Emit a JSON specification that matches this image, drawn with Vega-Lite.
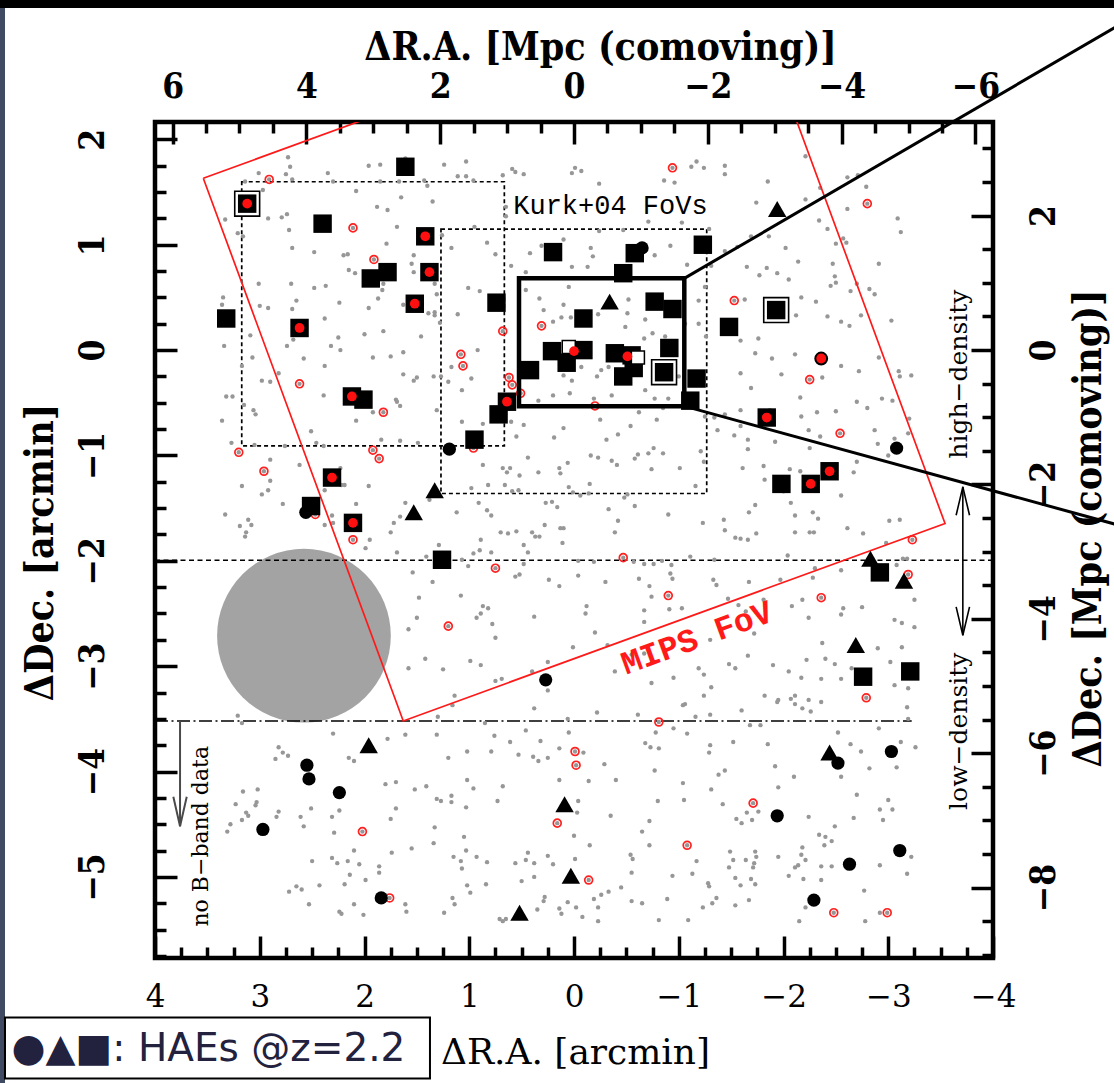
{
"$schema":"https://vega.github.io/schema/vega-lite/v6.json",
"width":838,"height":836,
"autosize":{"type":"none"},
"padding":{"left":155,"top":122,"right":121,"bottom":125},
"background":"white",
"config":{
"view":{"stroke":"black","strokeWidth":4.5},
"axis":{"grid":false,"domain":false,"tickColor":"black","tickWidth":3.5,"tickCap":"butt","labelColor":"black","titleColor":"black","labelOverlap":false,"labelFlush":false,"labelBound":false}
},
"datasets":{
"gray":[
{"a":2.73,"d":1.83},{"a":2.71,"d":1.74},{"a":3.01,"d":1.68},{"a":2.75,"d":1.67},{"a":2.69,"d":1.62},{"a":2.35,"d":1.68},{"a":1.96,"d":1.75},{"a":1.85,"d":1.76},{"a":1.61,"d":1.82},{"a":3.14,"d":1.6},{"a":2.97,"d":1.52},{"a":2.3,"d":1.6},{"a":2.08,"d":1.51},{"a":1.85,"d":1.6},{"a":1.67,"d":1.6},{"a":1.43,"d":1.61},{"a":1.4,"d":1.56},{"a":1.65,"d":1.45},{"a":1.35,"d":1.41},{"a":1.88,"d":1.36},{"a":1.78,"d":1.33},{"a":3.33,"d":1.24},{"a":3.21,"d":1.11},{"a":3.16,"d":1.08},{"a":2.92,"d":1.25},{"a":2.79,"d":1.26},{"a":2.74,"d":1.29},{"a":2.72,"d":1.14},{"a":1.69,"d":1.17},{"a":2.69,"d":0.97},{"a":2.48,"d":0.93},{"a":2.2,"d":0.9},{"a":2.16,"d":0.91},{"a":1.79,"d":1.01},{"a":1.53,"d":0.9},{"a":1.55,"d":0.82},{"a":2.15,"d":0.76},{"a":2.09,"d":0.73},{"a":1.53,"d":0.74},{"a":1.82,"d":0.63},{"a":1.83,"d":0.57},{"a":3.01,"d":0.63},{"a":2.7,"d":0.63},{"a":2.48,"d":0.59},{"a":2.37,"d":0.61},{"a":1.33,"d":0.63},{"a":1.31,"d":0.53},{"a":3.35,"d":0.5},{"a":3.36,"d":0.43},{"a":3.0,"d":0.42},{"a":2.92,"d":0.4},{"a":2.69,"d":0.39},{"a":2.65,"d":0.47},{"a":2.24,"d":0.45},{"a":1.87,"d":0.49},{"a":1.96,"d":0.4},{"a":1.63,"d":0.43},{"a":1.39,"d":0.35},{"a":1.33,"d":0.36},{"a":1.33,"d":0.33},{"a":2.38,"d":0.3},{"a":3.09,"d":0.14},{"a":2.74,"d":0.04},{"a":2.68,"d":0.1},{"a":2.58,"d":-0.08},{"a":2.32,"d":0.04},{"a":2.25,"d":0.12},{"a":2.23,"d":0.0},{"a":2.0,"d":0.15},{"a":1.82,"d":0.18},{"a":1.46,"d":0.13},{"a":1.92,"d":-0.07},{"a":1.75,"d":-0.06},{"a":1.63,"d":-0.02},{"a":3.34,"d":0.04},{"a":3.07,"d":-0.07},{"a":3.17,"d":-0.15},{"a":2.38,"d":-0.15},{"a":2.98,"d":-0.29},{"a":2.9,"d":-0.3},{"a":2.82,"d":-0.22},{"a":1.63,"d":-0.23},{"a":1.5,"d":-0.26},{"a":1.53,"d":-0.29},{"a":1.34,"d":-0.25},{"a":2.39,"d":-0.43},{"a":3.32,"d":-0.44},{"a":3.26,"d":-0.44},{"a":3.15,"d":-0.52},{"a":1.7,"d":-0.47},{"a":1.69,"d":-0.49},{"a":1.66,"d":-0.53},
{"a":1.24,"d":1.76},{"a":1.03,"d":1.79},{"a":1.11,"d":1.65},{"a":1.03,"d":1.65},{"a":0.96,"d":1.61},{"a":0.68,"d":1.66},{"a":0.59,"d":1.72},{"a":0.56,"d":1.69},{"a":0.48,"d":1.67},{"a":0.02,"d":1.68},{"a":-0.01,"d":1.73},{"a":-0.07,"d":1.7},{"a":-0.24,"d":1.58},{"a":-0.86,"d":1.61},{"a":-0.96,"d":1.59},{"a":-1.12,"d":1.74},{"a":-1.17,"d":1.79},{"a":-1.24,"d":1.73},{"a":0.65,"d":1.36},{"a":0.65,"d":1.27},{"a":0.95,"d":1.17},{"a":0.83,"d":1.02},{"a":0.75,"d":0.91},{"a":0.6,"d":0.8},{"a":0.46,"d":0.74},{"a":0.42,"d":0.92},{"a":0.31,"d":0.99},{"a":0.1,"d":1.05},{"a":0.02,"d":0.79},{"a":-0.13,"d":0.79},{"a":-0.16,"d":0.97},{"a":-0.18,"d":0.89},{"a":-0.24,"d":1.13},{"a":-0.47,"d":1.14},{"a":-0.71,"d":1.22},{"a":-0.77,"d":0.9},{"a":-0.92,"d":0.99},{"a":-1.03,"d":1.21},{"a":-1.29,"d":1.15},{"a":-1.31,"d":0.8},{"a":-1.08,"d":0.81},{"a":-1.25,"d":0.6},{"a":-1.19,"d":0.47},{"a":-1.26,"d":0.13},{"a":1.26,"d":1.09},{"a":1.17,"d":0.97},{"a":1.01,"d":0.59},{"a":0.9,"d":0.56},{"a":1.11,"d":0.34},{"a":1.28,"d":0.26},{"a":0.92,"d":0.0},{"a":1.17,"d":-0.16},{"a":1.2,"d":-0.3},{"a":1.07,"d":-0.38},{"a":0.98,"d":-0.27},{"a":1.27,"d":-0.25},{"a":0.46,"d":0.57},{"a":0.33,"d":0.49},{"a":0.29,"d":0.38},{"a":0.1,"d":0.43},{"a":0.2,"d":0.27},{"a":0.05,"d":0.6},{"a":0.12,"d":0.31},{"a":0.03,"d":0.31},{"a":-0.14,"d":0.35},{"a":-0.23,"d":0.34},{"a":-0.51,"d":0.35},{"a":-0.52,"d":0.48},{"a":-0.49,"d":0.22},{"a":-0.68,"d":0.29},{"a":-0.67,"d":0.11},{"a":-0.75,"d":0.16},{"a":-0.87,"d":0.13},{"a":-1.06,"d":0.25},{"a":-1.19,"d":0.25},{"a":-0.26,"d":-0.19},{"a":-0.33,"d":-0.16},{"a":-0.07,"d":-0.16},{"a":-0.22,"d":-0.25},{"a":0.1,"d":-0.24},{"a":0.02,"d":-0.29},{"a":-1.0,"d":-0.25},{"a":-0.68,"d":-0.38},{"a":-0.9,"d":-0.46},{"a":-0.77,"d":-0.46},{"a":0.34,"d":-0.48},{"a":0.2,"d":-0.43},{"a":0.04,"d":-0.41},{"a":-0.19,"d":-0.46},{"a":-0.36,"d":-0.43},
{"a":-1.44,"d":1.75},{"a":-1.44,"d":1.67},{"a":-2.21,"d":1.84},{"a":-1.85,"d":1.6},{"a":-1.74,"d":1.4},{"a":-2.21,"d":1.43},{"a":-2.35,"d":1.54},{"a":-2.61,"d":1.64},{"a":-2.71,"d":1.66},{"a":-2.79,"d":1.55},{"a":-2.61,"d":1.34},{"a":-2.34,"d":1.23},{"a":-2.42,"d":1.15},{"a":-2.5,"d":1.01},{"a":-2.57,"d":1.06},{"a":-2.6,"d":1.02},{"a":-2.02,"d":0.97},{"a":-1.69,"d":1.08},{"a":-1.86,"d":1.08},{"a":-1.44,"d":0.94},{"a":-1.56,"d":0.98},{"a":-3.09,"d":1.25},{"a":-3.12,"d":1.12},{"a":-2.14,"d":0.84},{"a":-2.47,"d":0.82},{"a":-2.91,"d":0.82},{"a":-1.65,"d":0.79},{"a":-1.84,"d":0.78},{"a":-1.77,"d":0.71},{"a":-1.94,"d":0.73},{"a":-2.05,"d":0.67},{"a":-2.49,"d":0.7},{"a":-2.5,"d":0.64},{"a":-2.45,"d":0.61},{"a":-2.64,"d":0.56},{"a":-2.7,"d":0.63},{"a":-2.82,"d":0.58},{"a":-2.87,"d":0.53},{"a":-2.17,"d":0.5},{"a":-2.31,"d":0.46},{"a":-1.63,"d":0.48},{"a":-2.12,"d":0.33},{"a":-2.42,"d":0.32},{"a":-2.55,"d":0.27},{"a":-2.63,"d":0.23},{"a":-2.74,"d":0.33},{"a":-3.03,"d":0.28},{"a":-1.59,"d":0.09},{"a":-1.76,"d":0.11},{"a":-1.73,"d":-0.03},{"a":-1.89,"d":-0.08},{"a":-2.11,"d":-0.04},{"a":-2.55,"d":-0.15},{"a":-2.72,"d":-0.2},{"a":-2.91,"d":-0.07},{"a":-3.1,"d":-0.2},{"a":-3.11,"d":-0.25},{"a":-3.22,"d":-0.24},{"a":-1.59,"d":-0.22},{"a":-1.98,"d":-0.23},{"a":-2.37,"d":-0.26},{"a":-1.69,"d":-0.36},{"a":-2.16,"d":-0.45},{"a":-2.7,"d":-0.49},{"a":-2.8,"d":-0.55},{"a":-2.94,"d":-0.46},{"a":-3.04,"d":-0.48},
{"a":3.36,"d":-0.67},{"a":3.06,"d":-0.57},{"a":3.04,"d":-0.61},{"a":2.51,"d":-0.77},{"a":2.08,"d":-0.67},{"a":1.92,"d":-0.59},{"a":1.31,"d":-0.57},{"a":3.27,"d":-0.88},{"a":3.05,"d":-0.9},{"a":2.76,"d":-0.91},{"a":2.46,"d":-0.88},{"a":2.39,"d":-0.91},{"a":1.84,"d":-0.85},{"a":1.66,"d":-0.86},{"a":1.49,"d":-0.88},{"a":2.9,"d":-1.04},{"a":2.62,"d":-1.09},{"a":2.23,"d":-1.12},{"a":2.22,"d":-1.28},{"a":2.19,"d":-1.28},{"a":1.96,"d":-1.29},{"a":2.38,"d":-1.33},{"a":2.9,"d":-1.24},{"a":2.92,"d":-1.33},{"a":2.98,"d":-1.37},{"a":3.17,"d":-1.29},{"a":2.78,"d":-1.46},{"a":2.08,"d":-1.46},{"a":3.33,"d":-1.56},{"a":3.11,"d":-1.61},{"a":3.08,"d":-1.66},{"a":3.19,"d":-1.67},{"a":3.13,"d":-1.73},{"a":3.14,"d":-1.77},{"a":2.31,"d":-1.57},{"a":2.3,"d":-1.64},{"a":2.38,"d":-1.66},{"a":1.95,"d":-1.8},{"a":1.99,"d":-1.88},{"a":1.69,"d":-1.92},{"a":1.75,"d":-1.73},{"a":1.72,"d":-1.64},{"a":1.61,"d":-1.45},{"a":1.66,"d":-1.58},{"a":1.38,"d":-1.42},{"a":1.41,"d":-1.96},{"a":1.29,"d":-1.85},{"a":1.54,"d":-2.11},{"a":1.35,"d":-2.2},{"a":1.48,"d":-2.35},{"a":1.5,"d":-2.54},{"a":1.58,"d":-2.65},{"a":1.42,"d":-2.93},{"a":1.58,"d":-3.02},
{"a":1.07,"d":-0.68},{"a":0.87,"d":-0.7},{"a":0.6,"d":-0.68},{"a":0.48,"d":-0.71},{"a":0.1,"d":-0.74},{"a":0.19,"d":-0.83},{"a":0.55,"d":-0.82},{"a":-0.25,"d":-0.66},{"a":-0.31,"d":-0.85},{"a":-0.42,"d":-0.8},{"a":-0.54,"d":-0.72},{"a":-0.62,"d":-0.59},{"a":-0.79,"d":-0.66},{"a":-0.85,"d":-0.55},{"a":-1.25,"d":-0.63},{"a":-1.34,"d":-0.64},{"a":-1.37,"d":-0.76},{"a":-1.21,"d":-0.96},{"a":-1.24,"d":-1.06},{"a":0.44,"d":-1.02},{"a":0.87,"d":-1.09},{"a":0.68,"d":-1.12},{"a":0.64,"d":-1.16},{"a":0.61,"d":-1.12},{"a":0.52,"d":-1.19},{"a":0.34,"d":-1.16},{"a":0.14,"d":-1.12},{"a":0.13,"d":-1.17},{"a":0.06,"d":-1.07},{"a":-0.16,"d":-1.0},{"a":-0.23,"d":-1.02},{"a":-0.36,"d":-1.05},{"a":-0.41,"d":-1.09},{"a":-0.58,"d":-1.03},{"a":-0.61,"d":-0.99},{"a":-0.71,"d":-0.98},{"a":-0.76,"d":-0.93},{"a":-0.85,"d":-0.98},{"a":-0.74,"d":-1.13},{"a":-1.01,"d":-1.12},{"a":-1.16,"d":-1.29},{"a":0.98,"d":-1.31},{"a":0.82,"d":-1.28},{"a":0.66,"d":-1.28},{"a":0.59,"d":-1.34},{"a":0.53,"d":-1.33},{"a":0.05,"d":-1.3},{"a":-0.15,"d":-1.27},{"a":0.01,"d":-1.35},{"a":-0.06,"d":-1.38},{"a":-0.14,"d":-1.36},{"a":-0.51,"d":-1.37},{"a":-0.48,"d":-1.4},{"a":-0.58,"d":-1.48},{"a":0.91,"d":-1.45},{"a":0.83,"d":-1.52},{"a":0.79,"d":-1.57},{"a":1.12,"d":-1.54},{"a":0.27,"d":-1.45},{"a":0.21,"d":-1.44},{"a":0.16,"d":-1.49},{"a":-0.33,"d":-1.51},{"a":-0.42,"d":-1.62},{"a":-0.39,"d":-1.73},{"a":-0.9,"d":-1.56},{"a":-1.23,"d":-1.64},{"a":0.28,"d":-1.66},{"a":0.13,"d":-1.69},{"a":0.1,"d":-1.69},{"a":0.11,"d":-1.83},{"a":0.4,"d":-1.73},{"a":0.37,"d":-1.77},{"a":0.33,"d":-1.77},{"a":0.7,"d":-1.73},{"a":0.63,"d":-1.74},{"a":0.55,"d":-1.72},{"a":0.48,"d":-1.85},{"a":0.44,"d":-1.92},{"a":0.89,"d":-1.8},{"a":0.9,"d":-1.9},{"a":0.96,"d":-1.93},{"a":0.79,"d":-1.92},{"a":1.07,"d":-1.99},{"a":1.01,"d":-2.05},{"a":0.48,"d":-2.03},{"a":-0.04,"d":-2.0},{"a":-0.19,"d":-2.01},{"a":-0.57,"d":-2.01},{"a":-0.67,"d":-2.03},{"a":-0.76,"d":-2.03},{"a":-0.84,"d":-2.0},{"a":-0.93,"d":-2.04},{"a":-1.11,"d":-1.96},{"a":-1.34,"d":-1.99},{"a":0.52,"d":-2.13},{"a":0.56,"d":-2.15},{"a":0.24,"d":-2.18},{"a":0.14,"d":-2.24},{"a":-0.04,"d":-2.14},{"a":-0.3,"d":-2.2},{"a":-0.62,"d":-2.17},{"a":-0.72,"d":-2.24},{"a":-0.74,"d":-2.34},{"a":-0.92,"d":-2.12},{"a":-0.94,"d":-2.17},{"a":-1.33,"d":-2.18},{"a":-1.36,"d":-2.23},{"a":1.08,"d":-2.33},{"a":0.87,"d":-2.43},{"a":0.82,"d":-2.45},{"a":0.89,"d":-2.5},{"a":0.93,"d":-2.54},{"a":0.78,"d":-2.6},{"a":0.75,"d":-2.73},{"a":0.38,"d":-2.53},{"a":-0.12,"d":-2.43},{"a":-0.11,"d":-2.5},{"a":-0.67,"d":-2.47},{"a":-0.67,"d":-2.58},{"a":-0.91,"d":-2.46},{"a":-1.03,"d":-2.45},{"a":-0.2,"d":-2.68},{"a":0.01,"d":-2.82},{"a":-0.67,"d":-2.88},{"a":-0.32,"d":-2.8},{"a":-0.55,"d":-2.89},{"a":-0.75,"d":-2.96},{"a":1.25,"d":-3.03},{"a":0.99,"d":-2.95},{"a":0.89,"d":-2.99},{"a":0.75,"d":-3.14},{"a":0.69,"d":-3.12},{"a":0.4,"d":-3.05},{"a":0.25,"d":-2.96},{"a":0.25,"d":-3.23},{"a":1.14,"d":-3.28},{"a":-0.39,"d":-3.05},{"a":-0.74,"d":-3.16},{"a":-0.95,"d":-3.11},{"a":-1.19,"d":-3.02},{"a":-1.24,"d":-3.08},{"a":-1.31,"d":-3.2},{"a":-1.24,"d":-3.28},{"a":-1.06,"d":-3.36},{"a":-1.3,"d":-2.75},
{"a":-1.44,"d":-0.61},{"a":-1.59,"d":-0.57},{"a":-1.87,"d":-0.57},{"a":-2.17,"d":-0.63},{"a":-2.32,"d":-0.59},{"a":-2.5,"d":-0.58},{"a":-3.2,"d":-0.65},{"a":-1.59,"d":-0.72},{"a":-1.53,"d":-0.81},{"a":-1.66,"d":-0.85},{"a":-1.66,"d":-0.94},{"a":-1.92,"d":-0.87},{"a":-2.24,"d":-0.76},{"a":-2.25,"d":-0.93},{"a":-2.35,"d":-0.82},{"a":-2.87,"d":-0.76},{"a":-2.9,"d":-0.89},{"a":-3.0,"d":-1.0},{"a":-3.06,"d":-0.84},{"a":-3.19,"d":-0.79},{"a":-2.7,"d":-1.06},{"a":-2.67,"d":-1.16},{"a":-1.61,"d":-1.12},{"a":-1.81,"d":-1.1},{"a":-2.06,"d":-1.13},{"a":-2.16,"d":-1.15},{"a":-1.82,"d":-1.23},{"a":-2.0,"d":-1.34},{"a":-2.07,"d":-1.45},{"a":-2.55,"d":-1.38},{"a":-1.73,"d":-1.47},{"a":-1.67,"d":-1.54},{"a":-2.11,"d":-1.57},{"a":-2.28,"d":-1.54},{"a":-2.33,"d":-1.6},{"a":-1.43,"d":-1.61},{"a":-1.44,"d":-1.71},{"a":-1.54,"d":-1.78},{"a":-1.59,"d":-1.79},{"a":-1.66,"d":-1.8},{"a":-1.74,"d":-1.74},{"a":-2.11,"d":-1.73},{"a":-2.25,"d":-1.73},{"a":-2.29,"d":-1.73},{"a":-2.61,"d":-1.69},{"a":-2.76,"d":-1.74},{"a":-3.01,"d":-1.62},{"a":-3.11,"d":-1.61},{"a":-2.98,"d":-1.83},{"a":-3.14,"d":-1.98},{"a":-3.18,"d":-1.98},{"a":-2.04,"d":-1.95},{"a":-2.3,"d":-2.07},{"a":-2.55,"d":-2.09},{"a":-3.08,"d":-2.04},{"a":-1.67,"d":-2.2},{"a":-1.97,"d":-2.18},{"a":-2.28,"d":-2.16},{"a":-1.47,"d":-2.36},{"a":-1.57,"d":-2.42},{"a":-1.64,"d":-2.48},{"a":-1.81,"d":-2.37},{"a":-2.08,"d":-2.43},{"a":-2.18,"d":-2.37},{"a":-2.24,"d":-2.54},{"a":-2.55,"d":-2.51},{"a":-2.57,"d":-2.45},{"a":-2.75,"d":-2.44},{"a":-3.06,"d":-2.56},{"a":-3.13,"d":-2.59},{"a":-3.25,"d":-2.63},{"a":-3.25,"d":-2.37},{"a":-1.72,"d":-2.69},{"a":-2.37,"d":-2.78},{"a":-2.9,"d":-2.83},{"a":-3.13,"d":-2.82},{"a":-1.66,"d":-2.9},{"a":-1.48,"d":-2.98},{"a":-1.54,"d":-3.02},{"a":-1.9,"d":-2.99},{"a":-2.05,"d":-3.05},{"a":-2.22,"d":-2.94},{"a":-2.4,"d":-2.93},{"a":-2.49,"d":-2.98},{"a":-2.65,"d":-3.02},{"a":-3.02,"d":-2.96},{"a":-2.17,"d":-3.11},{"a":-2.36,"d":-3.12},{"a":-2.55,"d":-3.12},{"a":-3.06,"d":-3.18},{"a":-3.19,"d":-3.21},{"a":-2.11,"d":-3.28},{"a":-1.95,"d":-3.32},{"a":-2.07,"d":-3.31},{"a":-1.82,"d":-3.28},{"a":-2.24,"d":-3.32},{"a":-2.36,"d":-3.34},
{"a":3.21,"d":-3.47},{"a":3.17,"d":-3.54},{"a":2.3,"d":-3.64},{"a":2.82,"d":-3.77},{"a":2.78,"d":-3.82},{"a":2.73,"d":-3.85},{"a":2.85,"d":-3.88},{"a":2.15,"d":-3.87},{"a":2.1,"d":-3.9},{"a":3.16,"d":-4.19},{"a":3.02,"d":-4.17},{"a":3.23,"d":-4.31},{"a":3.03,"d":-4.29},{"a":3.04,"d":-4.32},{"a":2.82,"d":-4.38},{"a":2.84,"d":-4.43},{"a":3.13,"d":-4.39},{"a":3.11,"d":-4.42},{"a":3.17,"d":-4.46},{"a":3.28,"d":-4.5},{"a":3.31,"d":-4.57},{"a":2.61,"d":-4.43},{"a":2.58,"d":-4.52},{"a":2.51,"d":-4.35},{"a":2.31,"d":-4.43},{"a":2.24,"d":-4.37},{"a":2.29,"d":-4.58},{"a":1.78,"d":-3.69},{"a":1.61,"d":-3.65},{"a":1.31,"d":-3.65},{"a":1.8,"d":-4.12},{"a":1.7,"d":-4.1},{"a":1.52,"d":-4.17},{"a":1.41,"d":-4.14},{"a":1.31,"d":-4.26},{"a":1.7,"d":-4.35},{"a":1.75,"d":-4.45},{"a":1.33,"d":-4.53},{"a":1.34,"d":-4.68},{"a":1.55,"d":-4.73},{"a":1.74,"d":-4.77},{"a":2.5,"d":-4.85},{"a":2.31,"d":-4.82},{"a":2.26,"d":-4.87},{"a":2.16,"d":-4.85},{"a":2.1,"d":-4.75},{"a":2.05,"d":-4.88},{"a":2.14,"d":-4.98},{"a":1.99,"d":-5.03},{"a":1.86,"d":-4.9},{"a":1.86,"d":-4.96},{"a":2.43,"d":-5.08},{"a":2.19,"d":-5.07},{"a":2.72,"d":-5.14},{"a":2.65,"d":-5.09},{"a":2.6,"d":-5.12},{"a":2.53,"d":-5.26},{"a":2.24,"d":-5.33},{"a":2.22,"d":-5.35},{"a":2.1,"d":-5.26},{"a":2.01,"d":-5.36},{"a":1.61,"d":-5.26},{"a":1.6,"d":-5.33},
{"a":1.3,"d":-3.48},{"a":1.16,"d":-3.37},{"a":0.38,"d":-3.4},{"a":-0.22,"d":-3.44},{"a":-0.61,"d":-3.46},{"a":-1.04,"d":-3.37},{"a":-1.16,"d":-3.48},{"a":-1.3,"d":-3.46},{"a":0.06,"d":-3.5},{"a":0.85,"d":-3.54},{"a":0.46,"d":-3.61},{"a":0.05,"d":-3.63},{"a":0.76,"d":-3.66},{"a":0.32,"d":-3.71},{"a":0.61,"d":-3.72},{"a":-0.78,"d":-3.63},{"a":-0.95,"d":-3.59},{"a":-1.08,"d":-3.64},{"a":-0.68,"d":-3.73},{"a":-0.73,"d":-3.77},{"a":-0.81,"d":-3.78},{"a":-1.3,"d":-3.75},{"a":-1.29,"d":-3.82},{"a":1.2,"d":-3.87},{"a":1.02,"d":-3.81},{"a":0.79,"d":-3.81},{"a":0.53,"d":-3.84},{"a":0.39,"d":-3.86},{"a":0.34,"d":-3.9},{"a":0.25,"d":-3.87},{"a":0.14,"d":-3.78},{"a":-0.09,"d":-3.82},{"a":-0.29,"d":-3.93},{"a":-0.77,"d":-3.99},{"a":-1.38,"d":-4.03},{"a":1.02,"d":-4.08},{"a":0.96,"d":-4.16},{"a":0.68,"d":-4.14},{"a":0.14,"d":-4.08},{"a":-0.14,"d":-4.09},{"a":-0.4,"d":-4.08},{"a":-1.04,"d":-4.11},{"a":-1.31,"d":-4.17},{"a":1.27,"d":-4.28},{"a":1.17,"d":-4.23},{"a":1.17,"d":-4.29},{"a":1.03,"d":-4.34},{"a":0.73,"d":-4.28},{"a":-0.04,"d":-4.28},{"a":-0.03,"d":-4.39},{"a":-0.35,"d":-4.42},{"a":-0.8,"d":-4.28},{"a":-1.05,"d":-4.27},{"a":-0.72,"d":-4.47},{"a":-0.65,"d":-4.57},{"a":0.0,"d":-4.61},{"a":1.05,"d":-4.62},{"a":1.03,"d":-4.75},{"a":-0.15,"d":-4.7},{"a":-0.72,"d":-4.7},{"a":1.15,"d":-4.81},{"a":1.08,"d":-4.85},{"a":1.07,"d":-4.92},{"a":0.93,"d":-4.81},{"a":0.83,"d":-4.86},{"a":0.56,"d":-4.87},{"a":0.46,"d":-4.84},{"a":0.44,"d":-4.77},{"a":0.38,"d":-4.87},{"a":0.25,"d":-4.8},{"a":0.2,"d":-4.88},{"a":-0.01,"d":-4.83},{"a":-0.54,"d":-4.79},{"a":-0.56,"d":-4.83},{"a":-1.17,"d":-4.85},{"a":-0.55,"d":-4.96},{"a":-0.94,"d":-4.99},{"a":-1.13,"d":-4.97},{"a":1.02,"d":-5.08},{"a":0.99,"d":-5.15},{"a":0.84,"d":-5.07},{"a":0.5,"d":-5.04},{"a":0.38,"d":-5.0},{"a":-0.33,"d":-5.14},{"a":-0.45,"d":-5.1},{"a":-0.26,"d":-5.17},{"a":-0.19,"d":-5.21},{"a":-1.28,"d":-5.06},{"a":-1.29,"d":-5.09},{"a":1.16,"d":-5.2},{"a":1.14,"d":-5.26},{"a":1.24,"d":-5.34},{"a":0.28,"d":-5.19},{"a":0.29,"d":-5.23},{"a":0.35,"d":-5.31},{"a":0.14,"d":-5.3},{"a":0.12,"d":-5.35},{"a":0.06,"d":-5.24},{"a":-0.02,"d":-5.29},{"a":-0.08,"d":-5.38},{"a":-0.23,"d":-5.29},{"a":-0.23,"d":-5.42},{"a":-0.55,"d":-5.23},{"a":-0.65,"d":-5.25},{"a":-0.89,"d":-5.21},{"a":-1.23,"d":-5.29},{"a":-1.32,"d":-5.25},{"a":-0.81,"d":-5.41},{"a":-1.09,"d":-5.41},{"a":0.71,"d":-5.4},{"a":0.68,"d":-5.42},{"a":0.65,"d":-5.4},
{"a":-1.6,"d":-3.42},{"a":-1.94,"d":-3.34},{"a":-2.11,"d":-3.36},{"a":-2.18,"d":-3.4},{"a":-2.26,"d":-3.43},{"a":-3.18,"d":-3.39},{"a":-3.19,"d":-3.5},{"a":-1.68,"d":-3.56},{"a":-1.78,"d":-3.56},{"a":-2.52,"d":-3.63},{"a":-2.91,"d":-3.59},{"a":-1.52,"d":-3.72},{"a":-1.85,"d":-3.74},{"a":-2.64,"d":-3.74},{"a":-2.74,"d":-3.81},{"a":-3.12,"d":-3.72},{"a":-3.26,"d":-3.77},{"a":-1.44,"d":-3.99},{"a":-1.92,"d":-3.95},{"a":-2.1,"d":-4.05},{"a":-2.55,"d":-4.05},{"a":-2.82,"d":-3.97},{"a":-3.08,"d":-3.96},{"a":-1.95,"d":-4.15},{"a":-2.7,"d":-4.22},{"a":-3.0,"d":-4.27},{"a":-2.92,"d":-4.36},{"a":-3.04,"d":-4.36},{"a":-1.42,"d":-4.31},{"a":-1.65,"d":-4.39},{"a":-1.76,"d":-4.38},{"a":-1.55,"d":-4.45},{"a":-1.6,"d":-4.49},{"a":-1.7,"d":-4.46},{"a":-2.24,"d":-4.43},{"a":-2.49,"d":-4.52},{"a":-2.67,"d":-4.44},{"a":-2.95,"d":-4.46},{"a":-2.34,"d":-4.6},{"a":-2.4,"d":-4.62},{"a":-2.46,"d":-4.66},{"a":-2.39,"d":-4.7},{"a":-2.18,"d":-4.72},{"a":-2.17,"d":-4.79},{"a":-1.49,"d":-4.76},{"a":-1.52,"d":-4.84},{"a":-1.64,"d":-4.84},{"a":-1.73,"d":-4.76},{"a":-1.74,"d":-4.81},{"a":-1.72,"d":-4.87},{"a":-1.71,"d":-4.91},{"a":-1.48,"d":-4.91},{"a":-1.95,"d":-4.81},{"a":-2.21,"d":-4.84},{"a":-2.14,"d":-4.89},{"a":-2.11,"d":-4.91},{"a":-2.05,"d":-4.99},{"a":-2.36,"d":-4.9},{"a":-2.46,"d":-4.9},{"a":-2.36,"d":-5.03},{"a":-2.19,"d":-5.02},{"a":-1.54,"d":-5.01},{"a":-1.69,"d":-5.02},{"a":-1.73,"d":-5.07},{"a":-1.59,"d":-5.08},{"a":-1.36,"d":-5.2},{"a":-1.54,"d":-5.27},{"a":-1.67,"d":-5.22},{"a":-2.77,"d":-5.13},{"a":-2.92,"d":-4.89},{"a":-3.18,"d":-4.97},{"a":-3.22,"d":-4.81},{"a":-2.21,"d":-5.29},{"a":-2.15,"d":-5.42},{"a":-2.78,"d":-5.42},{"a":-2.92,"d":-5.34}
],
"rings":[
{"a":2.91,"d":1.62},{"a":2.11,"d":1.16},{"a":1.91,"d":0.86},{"a":2.62,"d":-0.32},{"a":-0.94,"d":1.73},{"a":0.31,"d":0.23},{"a":0.68,"d":0.18},{"a":1.08,"d":-0.04},{"a":1.06,"d":-0.15},{"a":0.62,"d":-0.26},{"a":0.59,"d":-0.33},{"a":0.51,"d":-0.41},{"a":-0.2,"d":-0.53},{"a":-2.8,"d":1.39},{"a":-1.53,"d":0.47},{"a":-2.25,"d":-0.28},{"a":1.82,"d":-0.59},{"a":3.2,"d":-0.97},{"a":2.96,"d":-1.15},{"a":1.92,"d":-0.95},{"a":1.86,"d":-1.03},{"a":2.47,"d":-1.56},{"a":2.11,"d":-1.8},{"a":0.75,"d":-2.07},{"a":-0.47,"d":-1.97},{"a":-0.9,"d":-2.33},{"a":1.2,"d":-2.62},{"a":0.96,"d":-0.93},{"a":-2.54,"d":-0.79},{"a":-3.23,"d":-1.8},{"a":-3.19,"d":-2.13},{"a":-2.36,"d":-2.35},{"a":-2.79,"d":-3.3},{"a":2.02,"d":-4.57},{"a":1.76,"d":-5.2},{"a":-0.81,"d":-3.53},{"a":-0.01,"d":-3.81},{"a":-0.02,"d":-3.94},{"a":0.16,"d":-4.49},{"a":-1.08,"d":-4.7},{"a":-0.14,"d":-5.03},{"a":-1.71,"d":-4.3},{"a":-2.48,"d":-5.34},{"a":-2.99,"d":-5.34}
],
"squares":[
{"a":1.61,"d":1.74},{"a":2.4,"d":1.2},{"a":3.12,"d":1.39},{"a":1.42,"d":1.08},{"a":1.38,"d":0.74},{"a":1.78,"d":0.74},{"a":1.94,"d":0.68},{"a":1.52,"d":0.44},{"a":3.32,"d":0.3},{"a":2.62,"d":0.21},{"a":2.12,"d":-0.44},{"a":2.01,"d":-0.47},
{"a":0.2,"d":0.93},{"a":-0.58,"d":0.92},{"a":-1.23,"d":1.0},{"a":-0.47,"d":0.73},{"a":0.74,"d":0.45},{"a":-0.77,"d":0.46},{"a":-0.94,"d":0.39},{"a":-0.09,"d":0.3},{"a":0.21,"d":-0.01},{"a":0.07,"d":-0.12},{"a":-0.09,"d":0.0},{"a":-0.39,"d":-0.03},{"a":-0.55,"d":-0.05},{"a":-0.57,"d":-0.17},{"a":-0.47,"d":-0.25},{"a":-0.91,"d":0.02},{"a":-0.86,"d":-0.21},{"a":0.42,"d":-0.19},{"a":-1.17,"d":-0.27},{"a":-1.11,"d":-0.48},{"a":0.64,"d":-0.49},
{"a":-1.93,"d":0.38},{"a":-1.48,"d":0.22},
{"a":2.31,"d":-1.21},{"a":2.51,"d":-1.48},{"a":2.11,"d":-1.64},
{"a":0.72,"d":-0.61},{"a":0.95,"d":-0.85},{"a":1.26,"d":-1.99},
{"a":-1.84,"d":-0.64},{"a":-1.98,"d":-1.27},{"a":-2.26,"d":-1.27},{"a":-2.44,"d":-1.15},{"a":-2.92,"d":-2.11},{"a":-2.76,"d":-3.1},{"a":-3.21,"d":-3.05}
],
"bigopen":[{"a":3.12,"d":1.39},{"a":-1.93,"d":0.38},{"a":-0.86,"d":-0.21}],
"smallopen":[{"a":0.05,"d":0.03},{"a":-0.61,"d":-0.07}],
"circles":[
{"a":-0.65,"d":0.97},{"a":2.56,"d":-1.54},{"a":1.19,"d":-0.94},{"a":0.27,"d":-3.13},{"a":-3.08,"d":-0.93},{"a":2.55,"d":-3.94},{"a":2.53,"d":-4.07},{"a":2.24,"d":-4.2},{"a":2.97,"d":-4.55},{"a":1.84,"d":-5.2},{"a":-2.52,"d":-3.92},{"a":-3.03,"d":-3.81},{"a":-1.94,"d":-4.42},{"a":-3.11,"d":-4.75},{"a":-2.63,"d":-4.88},{"a":-2.29,"d":-5.22}
],
"triangles":[
{"a":-0.34,"d":0.46},{"a":-1.94,"d":1.34},{"a":1.33,"d":-1.33},{"a":1.53,"d":-1.54},{"a":-2.83,"d":-1.98},{"a":-3.15,"d":-2.19},{"a":-2.69,"d":-2.8},{"a":1.96,"d":-3.75},{"a":0.09,"d":-4.31},{"a":0.03,"d":-4.99},{"a":0.52,"d":-5.34},{"a":-2.44,"d":-3.82}
],
"reddots":[
{"a":3.12,"d":1.39},{"a":1.42,"d":1.08},{"a":1.38,"d":0.74},{"a":1.52,"d":0.44},{"a":2.62,"d":0.21},{"a":2.12,"d":-0.44},{"a":0.0,"d":-0.01},{"a":-0.51,"d":-0.06},{"a":0.64,"d":-0.49},{"a":2.31,"d":-1.21},{"a":2.11,"d":-1.64},{"a":-1.84,"d":-0.64},{"a":-2.26,"d":-1.27},{"a":-2.44,"d":-1.15}
],
"redcirc":[{"a":-2.36,"d":-0.08}],
"bigcircle":[{"a":2.578,"d":-2.711}],
"mips":[{"a":3.539,"d":1.631,"k":0},{"a":-1.632,"d":3.505,"k":1},{"a":-3.542,"d":-1.646,"k":2},{"a":1.63,"d":-3.52,"k":3},{"a":3.539,"d":1.631,"k":4}],
"kurk":[{"a":3.172,"a2":0.665,"d":1.598,"d2":-0.909},{"a":1.27,"a2":-1.267,"d":1.149,"d2":-1.361}],
"zoombox":[{"a":0.525,"a2":-1.053,"d":0.681,"d2":-0.532}],
"zoomlines":[{"g":1,"k":0,"a":-1.053,"d":0.681},{"g":1,"k":1,"a":-5.594,"d":3.312},{"g":2,"k":0,"a":-1.053,"d":-0.532},{"g":2,"k":1,"a":-5.594,"d":-1.769}],
"hdash":[{"a":4,"a2":-4,"d":-1.994}],
"hdashdot":[{"a":4,"a2":-3.224,"d":-3.52}],
"arrow2":[{"g":"s","k":0,"a":-3.712,"d":-1.298},{"g":"s","k":1,"a":-3.712,"d":-2.707},{"g":"h1","k":0,"a":-3.648,"d":-1.568},{"g":"h1","k":1,"a":-3.712,"d":-1.298},{"g":"h1","k":2,"a":-3.776,"d":-1.568},{"g":"h2","k":0,"a":-3.648,"d":-2.437},{"g":"h2","k":1,"a":-3.712,"d":-2.707},{"g":"h2","k":2,"a":-3.776,"d":-2.437}],
"arrow1":[{"g":"s","k":0,"a":3.761,"d":-3.52},{"g":"s","k":1,"a":3.761,"d":-4.52},{"g":"h","k":0,"a":3.825,"d":-4.24},{"g":"h","k":1,"a":3.761,"d":-4.52},{"g":"h","k":2,"a":3.697,"d":-4.24}],
"tKurk":[{"t":"Kurk+04 FoVs","a":-0.348,"d":1.363}],
"tMips":[{"t":"MIPS FoV","a":-1.174,"d":-2.735}],
"tDens":[{"t":"high−density","a":-3.671,"d":-0.228},{"t":"low−density","a":-3.671,"d":-3.618}],
"tNoB":[{"t":"no B−band data","a":3.561,"d":-4.615}],
"legbox":[{"a":5.432,"a2":1.375,"d":-6.334,"d2":-6.914}],
"legtext":[{"t":"●▲■: HAEs @z=2.2","a":5.37,"d":-6.63}],
"topband":[{"a":5.48,"a2":-5.16,"d":3.324,"d2":3.248}],
"leftstrip":[{"a":5.48,"a2":5.432,"d":3.248,"d2":-6.97}]
},
"layer":[
{
"encoding":{
"x":{"field":"a","type":"quantitative","scale":{"domain":[4,-4],"nice":false,"zero":false},
"axis":{"orient":"bottom","values":[4,3.75,3.5,3.25,3,2.75,2.5,2.25,2,1.75,1.5,1.25,1,0.75,0.5,0.25,0,-0.25,-0.5,-0.75,-1,-1.25,-1.5,-1.75,-2,-2.25,-2.5,-2.75,-3,-3.25,-3.5,-3.75,-4],
"labelExpr":"abs(datum.value % 1) < 0.001 ? format(datum.value, 'd') : ''",
"tickSize":{"condition":{"test":"abs(datum.value % 1) < 0.001","value":-22},"value":-11},
"labelFont":"DejaVu Serif","labelFontSize":31,"labelFontWeight":"normal","labelPadding":46,
"title":"ΔR.A. [arcmin]","titleFont":"DejaVu Serif","titleFontSize":36,"titleFontWeight":"normal","titleX":420,"titleY":94,"titleBaseline":"middle","titleAlign":"center"}},
"y":{"field":"d","type":"quantitative","scale":{"domain":[-5.77,2.165],"nice":false,"zero":false},
"axis":{"orient":"left","values":[2,1.75,1.5,1.25,1,0.75,0.5,0.25,0,-0.25,-0.5,-0.75,-1,-1.25,-1.5,-1.75,-2,-2.25,-2.5,-2.75,-3,-3.25,-3.5,-3.75,-4,-4.25,-4.5,-4.75,-5,-5.25,-5.5,-5.75],
"labelExpr":"abs(datum.value % 1) < 0.001 ? format(datum.value, 'd') : ''",
"tickSize":{"condition":{"test":"abs(datum.value % 1) < 0.001","value":-22},"value":-11},
"labelAngle":270,"labelAlign":"center","labelBaseline":"bottom",
"labelFont":"DejaVu Serif Condensed","labelFontSize":35,"labelFontWeight":"bold","labelPadding":67,
"title":"ΔDec. [arcmin]","titleFont":"DejaVu Serif Condensed","titleFontSize":39,"titleFontWeight":"bold","titleAngle":270,"titleX":-115,"titleY":430,"titleBaseline":"middle","titleAlign":"center"}}
},
"layer":[
{"data":{"name":"bigcircle"},"mark":{"type":"point","shape":"circle","filled":true,"size":30172,"color":"#a3a3a3","opacity":1}},
{"data":{"name":"kurk"},"mark":{"type":"rect","fillOpacity":0,"stroke":"black","strokeWidth":1.7,"strokeDash":[4,3]},"encoding":{"x2":{"field":"a2"},"y2":{"field":"d2"}}},
{"data":{"name":"hdash"},"mark":{"type":"rule","color":"black","strokeWidth":1.6,"strokeDash":[5,3.5]},"encoding":{"x2":{"field":"a2"}}},
{"data":{"name":"hdashdot"},"mark":{"type":"rule","color":"black","strokeWidth":1.6,"strokeDash":[13,3.5,2,3.5]},"encoding":{"x2":{"field":"a2"}}},
{"data":{"name":"gray"},"mark":{"type":"point","shape":"circle","filled":true,"size":19,"color":"#979797","opacity":1}},
{"data":{"name":"rings"},"mark":{"type":"point","shape":"circle","filled":true,"size":19,"color":"#979797","opacity":1}},
{"data":{"name":"rings"},"mark":{"type":"point","shape":"circle","filled":false,"size":62,"color":"#ff2020","strokeWidth":1.7,"opacity":1}},
{"data":{"name":"mips"},"mark":{"type":"line","color":"#ff1a1a","strokeWidth":1.7,"clip":true},"encoding":{"order":{"field":"k"}}},
{"data":{"name":"bigopen"},"mark":{"type":"point","shape":"square","filled":true,"size":620,"fill":"white","stroke":"black","strokeWidth":1.6,"opacity":1}},
{"data":{"name":"squares"},"mark":{"type":"point","shape":"square","filled":true,"size":340,"color":"black","opacity":1}},
{"data":{"name":"smallopen"},"mark":{"type":"point","shape":"square","filled":true,"size":170,"fill":"white","stroke":"black","strokeWidth":1.5,"opacity":1}},
{"data":{"name":"circles"},"mark":{"type":"point","shape":"circle","filled":true,"size":175,"color":"black","opacity":1}},
{"data":{"name":"triangles"},"mark":{"type":"point","shape":"triangle-up","filled":true,"size":340,"color":"black","opacity":1}},
{"data":{"name":"reddots"},"mark":{"type":"point","shape":"circle","filled":true,"size":95,"color":"#ff1010","opacity":1}},
{"data":{"name":"redcirc"},"mark":{"type":"point","shape":"circle","filled":true,"size":140,"fill":"#ff1010","stroke":"black","strokeWidth":2,"opacity":1}},
{"data":{"name":"zoombox"},"mark":{"type":"rect","fillOpacity":0,"stroke":"black","strokeWidth":4.5},"encoding":{"x2":{"field":"a2"},"y2":{"field":"d2"}}},
{"data":{"name":"zoomlines"},"mark":{"type":"line","color":"black","strokeWidth":3,"clip":false},"encoding":{"detail":{"field":"g"},"order":{"field":"k"}}},
{"data":{"name":"arrow2"},"mark":{"type":"line","color":"black","strokeWidth":1.6},"encoding":{"detail":{"field":"g"},"order":{"field":"k"}}},
{"data":{"name":"arrow1"},"mark":{"type":"line","color":"#4a4a4a","strokeWidth":2},"encoding":{"detail":{"field":"g"},"order":{"field":"k"}}},
{"data":{"name":"tKurk"},"mark":{"type":"text","font":"Liberation Mono","fontSize":27,"color":"black","align":"center","baseline":"middle"},"encoding":{"text":{"field":"t"}}},
{"data":{"name":"tMips"},"mark":{"type":"text","font":"Liberation Mono","fontSize":33,"fontWeight":"bold","color":"#ff1a1a","align":"center","baseline":"middle","angle":340},"encoding":{"text":{"field":"t"}}},
{"data":{"name":"tDens"},"mark":{"type":"text","font":"DejaVu Serif","fontSize":25,"color":"black","align":"center","baseline":"middle","angle":270},"encoding":{"text":{"field":"t"}}},
{"data":{"name":"tNoB"},"mark":{"type":"text","font":"DejaVu Serif","fontSize":22,"color":"black","align":"center","baseline":"middle","angle":270},"encoding":{"text":{"field":"t"}}},
{"data":{"name":"topband"},"mark":{"type":"rect","color":"black","clip":false},"encoding":{"x2":{"field":"a2"},"y2":{"field":"d2"}}},
{"data":{"name":"leftstrip"},"mark":{"type":"rect","color":"#404a62","clip":false},"encoding":{"x2":{"field":"a2"},"y2":{"field":"d2"}}},
{"data":{"name":"legbox"},"mark":{"type":"rect","fill":"white","stroke":"black","strokeWidth":2,"clip":false},"encoding":{"x2":{"field":"a2"},"y2":{"field":"d2"}}},
{"data":{"name":"legtext"},"mark":{"type":"text","font":"DejaVu Sans","fontSize":39,"color":"#22223f","align":"left","baseline":"middle","clip":false},"encoding":{"text":{"field":"t"}}}
]
},
{
"data":{"values":[{"m":0,"n":0}]},
"mark":{"type":"point","opacity":0},
"encoding":{
"x":{"field":"m","type":"quantitative","scale":{"domain":[6.263,-6.263],"nice":false,"zero":false},
"axis":{"orient":"top","values":[6,5.5,5,4.5,4,3.5,3,2.5,2,1.5,1,0.5,0,-0.5,-1,-1.5,-2,-2.5,-3,-3.5,-4,-4.5,-5,-5.5,-6],
"labelExpr":"abs(datum.value % 2) < 0.001 ? format(datum.value, 'd') : ''",
"tickSize":{"condition":{"test":"abs(datum.value % 2) < 0.001","value":-22},"value":-11},
"labelFont":"DejaVu Serif Condensed","labelFontSize":35,"labelFontWeight":"bold","labelPadding":40,
"title":"ΔR.A. [Mpc (comoving)]","titleFont":"DejaVu Serif Condensed","titleFontSize":39,"titleFontWeight":"bold","titleX":445,"titleY":-75,"titleBaseline":"middle","titleAlign":"center"}},
"y":{"field":"n","type":"quantitative","scale":{"domain":[-9.048,3.393],"nice":false,"zero":false},
"axis":{"orient":"right","values":[3,2.5,2,1.5,1,0.5,0,-0.5,-1,-1.5,-2,-2.5,-3,-3.5,-4,-4.5,-5,-5.5,-6,-6.5,-7,-7.5,-8,-8.5,-9],
"labelExpr":"abs(datum.value % 2) < 0.001 ? format(datum.value, 'd') : ''",
"tickSize":{"condition":{"test":"abs(datum.value % 2) < 0.001","value":-22},"value":-11},
"labelAngle":270,"labelAlign":"center","labelBaseline":"top",
"labelFont":"DejaVu Serif Condensed","labelFontSize":35,"labelFontWeight":"bold","labelPadding":55,
"title":"ΔDec. [Mpc (comoving)]","titleFont":"DejaVu Serif Condensed","titleFontSize":39,"titleFontWeight":"bold","titleAngle":270,"titleX":95,"titleY":406,"titleBaseline":"middle","titleAlign":"center"}}
}
}
],
"resolve":{"scale":{"x":"independent","y":"independent"}}
}
